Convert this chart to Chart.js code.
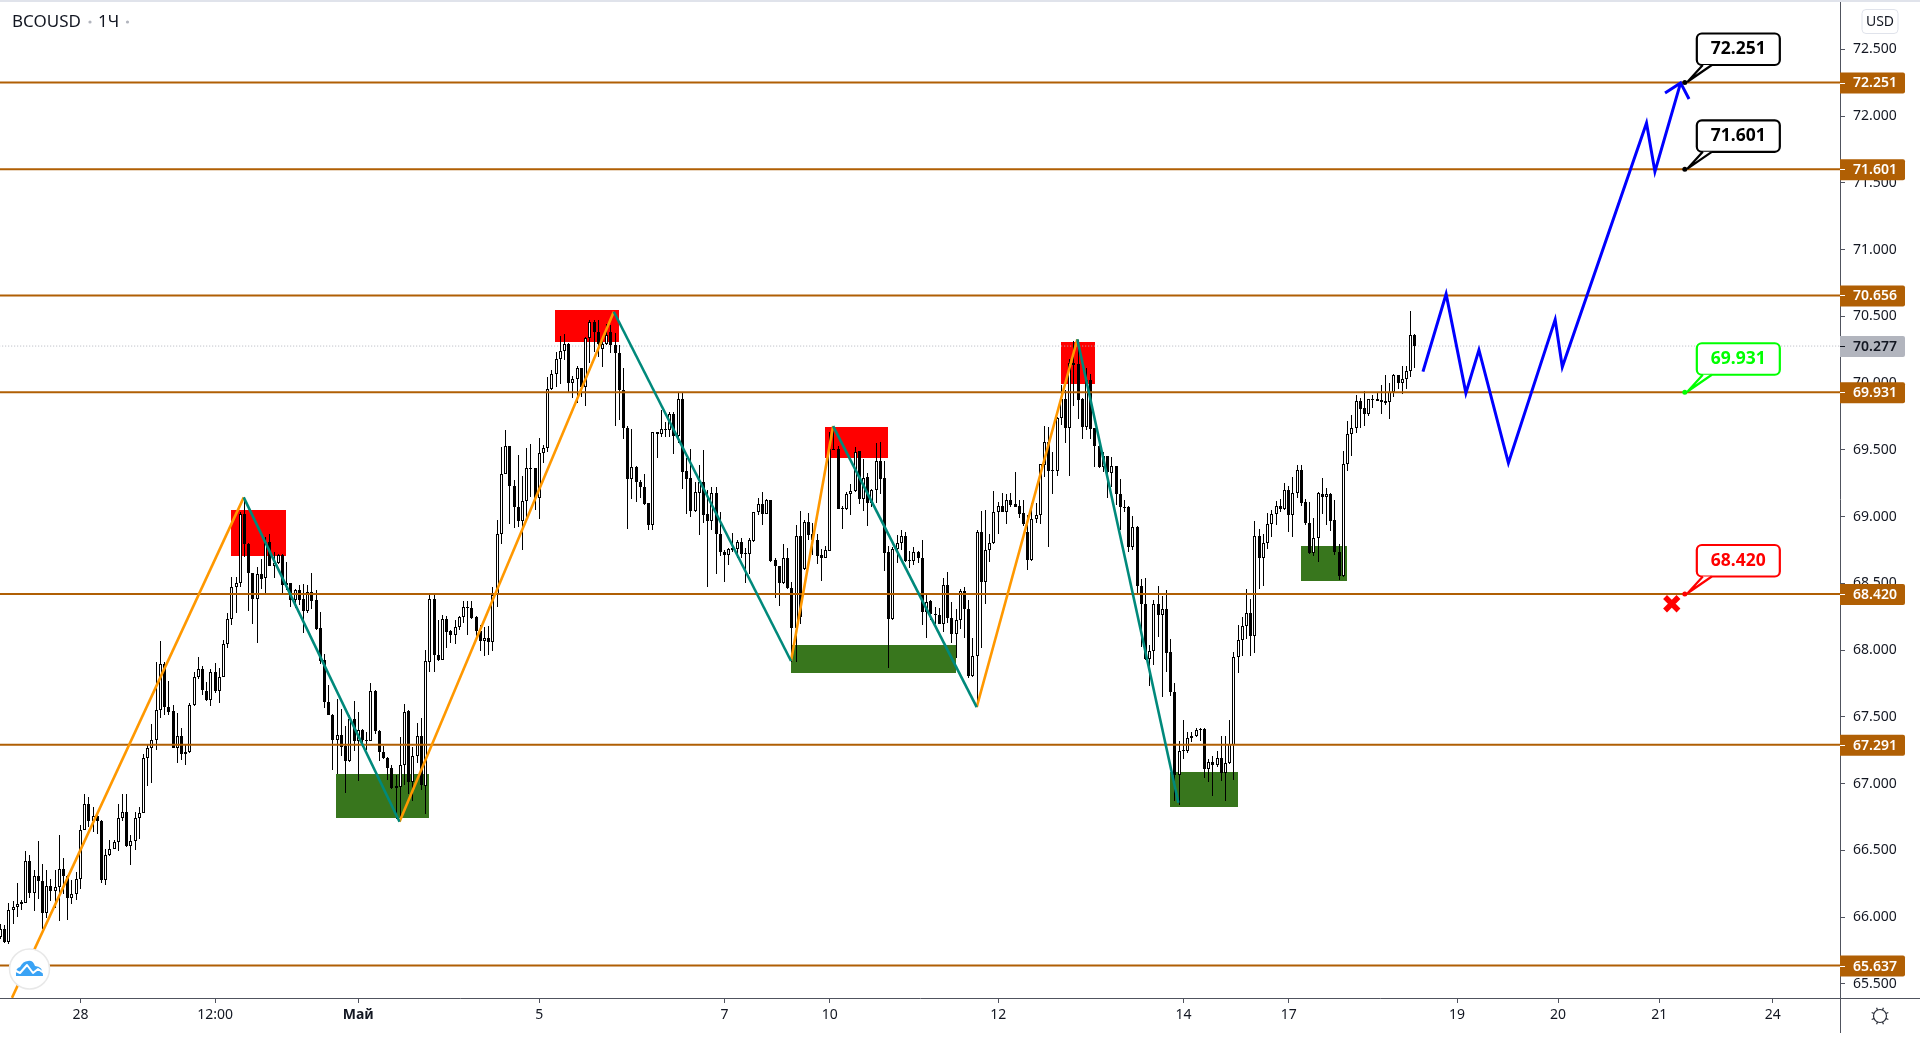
<!DOCTYPE html>
<html><head><meta charset="utf-8">
<style>html,body{margin:0;padding:0;background:#fff;overflow:hidden}canvas{display:block}</style>
<script src="https://cdn.jsdelivr.net/npm/chart.js@4"></script>
</head><body><canvas id="c" width="1920" height="1042"></canvas>
<script>
const symbolName = "BCOUSD", intervalName = "1Ч", currencyName = "USD";
const openPrices = [
65.85,65.913,65.813,66.055,66.078,66.11,66.108,66.423,66.18,66.31,
66.273,66.03,66.235,66.195,66.228,66.363,66.308,66.143,66.175,66.288,
66.655,66.85,66.72,66.76,66.723,66.28,66.468,66.513,66.565,66.745,
66.79,66.53,66.573,66.745,66.783,67.195,67.27,67.323,67.548,67.893,
67.57,67.543,67.268,67.36,67.233,67.233,67.585,67.795,67.855,67.697,
67.629,67.839,67.694,67.802,68.042,68.229,68.474,68.499,69.017,68.797,
68.574,68.384,68.567,68.537,68.812,68.632,68.649,68.714,68.504,68.499,
68.372,68.447,68.379,68.292,68.432,68.372,68.162,67.922,67.614,67.517,
67.327,67.367,67.279,67.169,67.484,67.319,67.404,67.324,67.319,67.697,
67.397,67.239,67.194,67.119,66.979,66.974,67.142,67.544,67.014,67.209,
67.356,66.985,67.91,68.385,67.965,67.927,68.235,68.14,68.112,68.175,
68.245,68.325,68.317,68.245,68.142,68.067,68.092,68.06,68.41,68.872,
69.322,69.525,69.232,69.075,68.967,69.12,69.367,69.36,69.142,69.477,
69.51,69.952,70.065,70.177,70.237,70.29,70.002,70.032,70.11,69.972,
70.335,70.46,70.38,70.257,70.295,70.38,70.285,70.226,69.948,69.66,
69.278,69.368,69.256,69.218,69.098,68.938,69.631,69.621,69.651,69.651,
69.766,69.603,69.878,69.341,69.286,69.043,69.178,69.258,69.016,68.968,
69.173,68.866,68.738,68.713,68.761,68.758,68.806,68.726,68.716,68.816,
69.031,69.091,69.021,69.121,68.671,68.626,68.503,68.693,68.468,68.166,
68.851,68.606,68.958,68.868,68.828,68.711,68.691,68.743,69.501,69.503,
69.066,69.058,69.166,69.188,69.488,69.133,69.293,69.103,69.196,69.413,
69.286,68.731,68.233,68.756,68.803,68.858,68.673,68.668,68.738,68.693,
68.286,68.366,68.268,68.266,68.196,68.491,68.241,68.121,68.228,68.446,
68.311,67.806,67.956,68.881,68.511,68.753,68.803,69.031,69.076,69.036,
69.121,69.091,69.076,69.023,68.885,68.675,68.982,69.015,69.387,69.562,
69.347,69.342,69.74,69.877,69.665,70.152,70.14,69.877,69.672,70.022,
69.66,69.532,69.372,69.452,69.327,69.377,69.172,69.075,69.075,68.77,
68.925,68.482,68.347,67.93,67.995,68.347,68.262,68.31,67.982,67.687,
67.064,67.242,67.247,67.342,67.355,67.402,67.412,67.107,67.162,67.137,
67.192,67.082,67.155,67.292,67.945,68.077,68.18,68.28,68.107,68.857,
68.69,68.805,68.947,69.022,69.082,69.057,69.202,69.012,69.18,69.352,
69.107,68.955,68.727,68.842,69.172,69.147,69.172,68.972,68.737,68.552,
69.39,69.622,69.667,69.862,69.81,69.77,69.875,69.877,69.87,69.862,
69.855,69.935,70.057,70.002,70.032,70.087,70.357];
const highPrices = [
65.95,65.943,66.105,66.118,66.255,66.125,66.493,66.463,66.35,66.568,
66.40,66.35,66.288,66.355,66.618,66.445,66.313,66.275,66.338,66.688,
66.925,66.90,66.825,66.788,66.725,66.513,66.575,66.58,66.85,66.92,
66.92,66.613,66.788,66.825,67.22,67.288,67.445,67.908,68.068,67.913,
67.768,67.588,67.525,67.413,67.288,67.60,67.838,67.945,67.88,67.762,
67.857,67.902,67.867,68.074,68.279,68.544,68.544,69.037,69.144,68.799,
68.579,68.619,68.679,68.849,68.869,68.737,68.719,68.719,68.662,68.504,
68.457,68.487,68.494,68.487,68.574,68.449,68.282,67.974,67.737,67.519,
67.637,67.562,67.429,67.512,67.617,67.534,67.409,67.389,67.754,67.699,
67.399,67.279,67.199,67.137,67.062,67.347,67.599,67.554,67.276,67.454,
67.491,67.997,68.43,68.43,68.227,68.26,68.252,68.147,68.222,68.252,
68.365,68.365,68.365,68.252,68.185,68.172,68.177,68.472,68.972,69.522,
69.647,69.53,69.272,69.46,69.302,69.51,69.542,69.365,69.585,69.535,
70.042,70.097,70.235,70.352,70.367,70.297,70.052,70.127,70.112,70.347,
70.472,70.472,70.472,70.347,70.442,70.435,70.372,70.286,70.113,69.678,
69.653,69.378,69.273,69.318,69.103,69.636,69.636,69.798,69.711,69.786,
69.786,69.928,69.931,69.436,69.503,69.261,69.386,69.498,69.198,69.218,
69.218,69.033,68.753,68.768,68.878,68.823,68.843,68.761,68.843,69.036,
69.141,69.183,69.133,69.126,68.686,68.628,68.793,68.761,68.513,68.936,
69.041,68.973,69.023,68.953,68.873,68.756,68.783,69.636,69.673,69.528,
69.078,69.186,69.243,69.518,69.493,69.428,69.323,69.203,69.548,69.558,
69.413,68.778,68.773,68.861,68.903,68.883,68.743,68.773,68.743,68.823,
68.431,68.373,68.323,68.318,68.538,68.583,68.358,68.311,68.456,68.471,
68.373,68.093,68.903,69.041,69.048,68.866,69.191,69.106,69.173,69.168,
69.173,69.333,69.123,69.123,69.01,69.105,69.105,69.397,69.677,69.672,
69.48,69.747,69.985,69.947,70.177,70.315,70.322,69.885,70.11,70.065,
69.665,69.535,69.485,69.455,69.445,69.38,69.285,69.127,69.077,69.002,
68.93,68.535,68.542,68.04,68.377,68.482,68.402,68.452,68.085,67.755,
67.317,67.479,67.385,67.385,67.417,67.417,67.417,67.185,67.21,67.242,
67.36,67.36,67.477,67.982,68.185,68.247,68.46,68.38,68.965,68.91,
68.867,69.03,69.047,69.115,69.13,69.25,69.23,69.30,69.385,69.385,
69.13,69.112,68.992,69.182,69.292,69.212,69.177,69.122,68.792,69.49,
69.715,69.76,69.91,69.885,69.94,69.882,69.91,69.927,69.985,70.06,
69.997,70.067,70.06,70.127,70.127,70.54,70.367];
const lowPrices = [
65.838,65.805,65.795,65.945,66.0,66.05,66.105,66.143,66.045,66.138,
65.913,65.995,66.12,66.07,65.97,66.175,65.98,66.10,66.125,66.213,
66.65,66.675,66.638,66.625,66.258,66.24,66.458,66.508,66.495,66.72,
66.525,66.39,66.50,66.583,66.78,66.98,67.005,67.255,67.493,67.513,
67.513,67.263,67.155,67.175,67.14,67.23,67.58,67.78,67.663,67.619,
67.579,67.679,67.604,67.799,68.017,68.187,68.279,68.474,68.699,68.294,
68.194,68.054,68.454,68.429,68.629,68.542,68.644,68.424,68.449,68.319,
68.317,68.337,68.129,68.279,68.304,68.154,67.894,67.567,67.512,67.104,
67.069,67.204,66.929,67.162,67.244,67.019,67.274,67.254,67.319,67.369,
67.169,67.187,67.024,66.957,66.737,66.724,66.987,66.924,66.869,67.154,
66.95,66.775,67.835,67.835,67.92,67.922,68.015,68.052,68.047,68.152,
68.202,68.11,68.235,68.085,67.992,67.952,67.965,67.992,68.322,68.797,
69.317,68.942,68.917,68.922,68.747,68.997,69.147,69.047,68.985,69.402,
69.485,69.947,69.967,69.99,70.172,69.922,69.89,69.852,69.892,69.827,
70.152,70.235,70.197,70.122,70.285,70.222,69.682,69.723,69.581,68.908,
69.131,69.111,69.141,69.083,68.901,68.901,69.441,69.598,69.598,69.598,
69.468,69.548,69.206,69.018,68.998,69.031,68.861,68.948,68.473,68.898,
68.568,68.706,68.511,68.636,68.736,68.691,68.686,68.503,68.568,68.806,
69.011,68.938,69.016,68.661,68.391,68.331,68.498,68.461,67.911,67.911,
68.198,68.598,68.823,68.711,68.643,68.516,68.686,68.741,69.498,69.053,
68.906,69.048,69.011,69.186,69.093,69.043,68.928,69.073,69.103,69.166,
68.591,67.866,68.228,68.653,68.748,68.663,68.616,68.636,68.653,68.186,
68.091,68.223,68.198,68.193,68.136,68.203,68.053,67.941,68.156,68.091,
67.793,67.798,67.571,68.016,68.343,68.658,68.793,68.868,69.031,68.943,
69.068,69.068,68.986,68.928,68.597,68.667,68.952,68.947,69.297,68.772,
69.167,69.305,69.685,69.552,69.305,69.827,69.73,69.58,69.647,69.58,
69.372,69.367,69.335,69.14,69.222,69.085,68.897,69.035,68.735,68.747,
68.422,68.022,67.922,67.73,67.89,68.097,67.647,67.835,67.655,66.867,
66.842,67.185,67.227,67.31,67.347,67.317,67.04,67.01,66.905,67.122,
67.022,66.872,67.147,67.03,67.825,67.952,68.08,67.952,67.975,68.46,
68.48,68.76,68.847,68.935,69.035,69.052,68.882,68.847,69.137,69.077,
68.935,68.722,68.702,68.66,69.017,68.935,68.89,68.71,68.522,68.547,
69.34,69.452,69.627,69.665,69.677,69.752,69.815,69.865,69.767,69.835,
69.732,69.897,69.957,69.917,69.955,70.047,70.115];
const closePrices = [
65.913,65.813,66.055,66.078,66.10,66.10,66.423,66.18,66.31,66.273,
66.03,66.235,66.195,66.228,66.363,66.308,66.143,66.175,66.288,66.655,
66.85,66.72,66.76,66.72,66.275,66.468,66.513,66.565,66.745,66.79,
66.53,66.573,66.745,66.783,67.195,67.27,67.323,67.548,67.893,67.57,
67.538,67.268,67.36,67.225,67.225,67.585,67.795,67.855,67.698,67.624,
67.839,67.694,67.802,68.042,68.229,68.474,68.499,69.017,68.797,68.574,
68.384,68.567,68.534,68.812,68.632,68.649,68.714,68.489,68.489,68.372,
68.447,68.377,68.292,68.432,68.369,68.159,67.919,67.614,67.517,67.327,
67.367,67.277,67.169,67.484,67.319,67.404,67.324,67.319,67.697,67.394,
67.237,67.194,67.117,66.967,66.969,67.142,67.539,67.012,67.209,67.356,
66.989,67.915,68.385,67.965,67.922,68.235,68.135,68.112,68.175,68.245,
68.325,68.315,68.24,68.142,68.067,68.092,68.06,68.41,68.872,69.322,
69.525,69.232,69.072,68.967,69.12,69.367,69.357,69.142,69.477,69.51,
69.952,70.065,70.177,70.237,70.29,70.002,70.032,70.11,69.967,70.335,
70.46,70.38,70.295,70.295,70.36,70.285,70.222,69.948,69.66,69.278,
69.368,69.256,69.218,69.096,68.938,69.631,69.621,69.653,69.656,69.766,
69.601,69.878,69.336,69.283,69.043,69.181,69.258,69.013,68.968,69.173,
68.866,68.736,68.713,68.756,68.751,68.806,68.718,68.716,68.821,69.031,
69.091,69.021,69.121,68.666,68.626,68.503,68.693,68.466,68.166,68.851,
68.248,68.958,68.861,68.828,68.706,68.691,68.746,69.503,69.506,69.058,
69.058,69.166,69.188,69.486,69.133,69.291,69.103,69.196,69.413,69.283,
68.728,68.233,68.756,68.803,68.858,68.668,68.668,68.738,68.691,68.286,
68.363,68.273,68.263,68.196,68.491,68.241,68.121,68.228,68.446,68.306,
67.806,67.956,68.881,68.511,68.753,68.803,69.031,69.076,69.036,69.121,
69.086,69.073,69.018,68.943,68.675,68.985,69.015,69.39,69.562,69.342,
69.34,69.74,69.877,69.665,70.152,70.137,69.875,69.672,70.022,69.657,
69.53,69.372,69.452,69.335,69.377,69.17,69.072,69.07,68.77,68.925,
68.48,68.342,67.93,67.995,68.347,68.262,68.31,67.977,67.685,67.064,
67.247,67.254,67.342,67.357,67.402,67.41,67.107,67.162,67.137,67.19,
67.082,67.155,67.297,67.945,68.077,68.182,68.28,68.105,68.857,68.69,
68.805,68.947,69.022,69.082,69.057,69.202,69.012,69.18,69.352,69.102,
68.952,68.727,68.842,69.175,69.147,69.172,68.967,68.735,68.552,69.39,
69.622,69.667,69.862,69.807,69.77,69.877,69.88,69.867,69.86,69.852,
69.935,70.057,70.002,70.032,70.087,70.357,70.277];

const priceLevels = [72.251,71.601,70.656,69.931,68.420,67.291,65.637];
const lastPrice = 70.277;
const yTickValues = [65.5,66,66.5,67,67.5,68,68.5,69,69.5,70,70.5,71,71.5,72,72.5];
const xTickBars = [19,51,85,128,172,197,237,281,306,346,370,394,421];
const xTickLabels = ["28","12:00","Май","5","7","10","12","14","17","19","20","21","24"];

const zigzagBars = [2.75,57.8,94.8,145.7,187.8,197.8,231.9,255.8,279.8];
const zigzagPrices = [65.395,69.144,66.714,70.534,67.918,69.678,67.573,70.328,66.857];
const forecastBars = [337.9,343.4,348.1,351.2,358.2,369.3,371.0,391.0,393.0,399.1];
const forecastPrices = [70.085,70.667,69.925,70.248,69.401,70.475,70.120,71.948,71.583,72.248];
const arrowBars = [395.4,399.1,401.1];
const arrowPrices = [72.173,72.248,72.128];

const zoneBarFrom = [54.8,131.7,195.9,251.9,79.7,187.8,277.8,308.9];
const zoneBarTo = [67.8,146.9,210.8,260,101.8,226.9,294,319.9];
const zoneTop = [69.049,70.547,69.671,70.308,67.071,68.038,67.086,68.780];
const zoneBottom = [68.707,70.308,69.438,69.993,66.742,67.830,66.827,68.520];
const zoneKinds = ["supply","supply","supply","supply","demand","demand","demand","demand"];

const calloutPrices = [72.251,71.601,69.931,68.420];
const calloutTexts = ["72.251","71.601","69.931","68.420"];
const calloutColors = ["#000000","#000000","#00ff00","#ff0000"];
const calloutBar = 400.1;
const stopBar = [397];
const stopPrice = [68.347];

const FONT = '"Noto Sans"';
const bars = openPrices.map((_, i) => i);
const isUp = bars.map(i => closePrices[i] >= openPrices[i]);
const LEVEL = "#b05f04";

function line(xs, ys, color, width, order, extra) {
  return Object.assign({type:"line", data:xs.map((x,i)=>({x, y:ys[i]})), borderColor:color, borderWidth:width,
    pointRadius:0, fill:false, tension:0, order, parsing:{xAxisKey:"x",yAxisKey:"y"}}, extra||{});
}
const datasets = [];
datasets.push(line([-1,438],[lastPrice,lastPrice],"#b2b5be",1,12,{borderDash:[1,2]}));
datasets.push({type:"bar", candle:true, data:bars.map(i=>({x:i,y:[lowPrices[i],highPrices[i]]})), barThickness:1,
  backgroundColor:"#000", borderWidth:0, inflateAmount:0, grouped:false, order:11});
datasets.push({type:"bar", candle:true, data:bars.map(i=>({x:i,y:[openPrices[i],closePrices[i]]})), barThickness:3,
  backgroundColor:bars.map(i=>isUp[i]?"#fff":"#000"), borderColor:"#000", borderWidth:1, borderSkipped:false,
  inflateAmount:0, grouped:false, order:10});
priceLevels.forEach(p=>datasets.push(line([-1,438],[p,p],LEVEL,2,5)));
for(let k=0;k<zigzagBars.length-1;k++){
  datasets.push(line(zigzagBars.slice(k,k+2),zigzagPrices.slice(k,k+2),k%2===0?"#ff9800":"#00897b",2.6,k%2===0?3:2));
}
datasets.push(line(forecastBars,forecastPrices,"#0000ff",3,1));
datasets.push(line(arrowBars,arrowPrices,"#0000ff",3,1));
datasets.push({type:"scatter", data:[{x:stopBar[0],y:stopPrice[0]}], pointStyle:"crossRot", pointRadius:9.5,
  borderColor:"#ff0000", borderWidth:5.5, backgroundColor:"#ff0000", order:0, showLine:false});

const crisp = {id:"crisp", afterDatasetsUpdate(chart){
  chart.data.datasets.forEach((ds,di)=>{
    if(!ds.candle) return;
    chart.getDatasetMeta(di).data.forEach(el=>{
      el.x=Math.floor(el.x)+0.5; el.y=Math.round(el.y); el.base=Math.round(el.base);
      if(el.y===el.base) el.base+=1;
    });
  });
}};

const zones = {id:"zones", beforeDatasetsDraw(chart){
  const {ctx,scales:{x,y}}=chart; ctx.save();
  zoneKinds.forEach((k,i)=>{
    ctx.fillStyle=k==="supply"?"#ff0000":"#38761d";
    const x0=Math.round(x.getPixelForValue(zoneBarFrom[i])), x1=Math.round(x.getPixelForValue(zoneBarTo[i]));
    const y0=Math.round(y.getPixelForValue(zoneTop[i])), y1=Math.round(y.getPixelForValue(zoneBottom[i]));
    ctx.fillRect(x0,y0,x1-x0,y1-y0);
  });
  ctx.restore();
}};

function rr(ctx,x,y,w,h,r){ctx.beginPath();ctx.roundRect(x,y,w,h,r);}
const overlay = {id:"overlay", afterDraw(chart){
  const {ctx,scales:{x,y},chartArea:ca}=chart; ctx.save();
  ctx.fillStyle="#e0e3eb"; ctx.fillRect(0,0,1920,2);
  ctx.strokeStyle="#50535e"; ctx.lineWidth=1;
  ctx.beginPath(); ctx.moveTo(ca.right+.5,ca.bottom); ctx.lineTo(ca.right+.5,1033);
  ctx.moveTo(ca.right,ca.bottom+.5); ctx.lineTo(1920,ca.bottom+.5); ctx.stroke();

  ctx.textBaseline="middle"; ctx.textAlign="left";
  const box=(p,bg,fg,txt)=>{
    const py=y.getPixelForValue(p);
    ctx.fillStyle=bg; rr(ctx,ca.right,py-10,65,21,[0,2,2,0]); ctx.fill();
    ctx.strokeStyle=fg; ctx.beginPath(); ctx.moveTo(ca.right,Math.round(py)+.5); ctx.lineTo(ca.right+5,Math.round(py)+.5); ctx.stroke();
    ctx.fillStyle=fg; ctx.font="600 14px "+FONT; ctx.fillText(txt,ca.right+13,py+1);
  };
  box(lastPrice,"#b2b5be","#131722",lastPrice.toFixed(3));
  priceLevels.forEach(p=>box(p,LEVEL,"#ffffff",p.toFixed(3)));

  // callouts
  const cx=x.getPixelForValue(calloutBar);
  calloutPrices.forEach((p,i)=>{
    const py=y.getPixelForValue(p), c=calloutColors[i];
    ctx.strokeStyle=c; ctx.lineWidth=2.2; ctx.fillStyle="#fff"; ctx.lineJoin="round";
    const top=py-49, bot=py-17.5, L=cx+12, R=cx+95;
    rr(ctx,L,top,R-L,bot-top,5); ctx.fill(); ctx.stroke();
    ctx.beginPath(); ctx.moveTo(cx+18,bot); ctx.lineTo(cx+3,py-1); ctx.lineTo(cx+27,bot); ctx.closePath(); ctx.fill();
    ctx.beginPath(); ctx.moveTo(cx+18,bot); ctx.lineTo(cx+3,py-1); ctx.lineTo(cx+27,bot); ctx.stroke();
    ctx.fillStyle=c; ctx.beginPath(); ctx.arc(cx,py,2.5,0,Math.PI*2); ctx.fill();
    ctx.font="bold 17.5px "+FONT; ctx.textAlign="center"; ctx.fillText(calloutTexts[i],(L+R)/2,(top+bot)/2);
  });

  // legend text
  ctx.textAlign="left"; ctx.fillStyle="#131722"; ctx.font="17px "+FONT;
  ctx.fillText(symbolName,12,22);
  ctx.fillText(intervalName,98,22);
  ctx.fillStyle="#b2b5be";
  [90,127.5].forEach(px=>{ctx.beginPath();ctx.arc(px,22,1.6,0,Math.PI*2);ctx.fill();});

  // currency button
  ctx.strokeStyle="#e0e3eb"; ctx.lineWidth=1; rr(ctx,1862,9.5,36,24,4); ctx.stroke();
  ctx.fillStyle="#131722"; ctx.font="14px "+FONT; ctx.textAlign="center"; ctx.fillText(currencyName,1880,22);

  // settings icon
  ctx.strokeStyle="#2a2e39"; ctx.lineWidth=1.2;
  ctx.beginPath(); ctx.arc(1880,1016,6.5,0,Math.PI*2); ctx.stroke();
  for(let a=0;a<8;a++){const t=a*Math.PI/4+Math.PI/8;ctx.beginPath();ctx.moveTo(1880+6.5*Math.cos(t),1016+6.5*Math.sin(t));ctx.lineTo(1880+9*Math.cos(t),1016+9*Math.sin(t));ctx.stroke();}

  // logo
  ctx.fillStyle="#fff"; ctx.strokeStyle="#e8e8e8"; ctx.lineWidth=1.5;
  ctx.beginPath(); ctx.arc(29.5,969,20,0,Math.PI*2); ctx.fill(); ctx.stroke();
  ctx.fillStyle="#3aa3f5"; ctx.beginPath();
  ctx.moveTo(16,976); ctx.quadraticCurveTo(15,968,20,967); ctx.quadraticCurveTo(23,961,28,961);
  ctx.quadraticCurveTo(33,960,35,966); ctx.quadraticCurveTo(43,966,43,976); ctx.closePath(); ctx.fill();
  ctx.strokeStyle="#fff"; ctx.lineWidth=2; ctx.beginPath();
  ctx.moveTo(14,970); ctx.lineTo(20,973); ctx.lineTo(27,965); ctx.lineTo(33,973); ctx.lineTo(38,969); ctx.lineTo(44,973); ctx.stroke();
  ctx.restore();
}};

const TICK = "#131722", AXIS = "#50535e";
function noPad(s){s.paddingTop=0;s.paddingBottom=0;s.paddingLeft=0;s.paddingRight=0;}
new Chart(document.getElementById("c"),{
  type:"bar",
  data:{datasets},
  plugins:[crisp,zones,overlay],
  options:{
    responsive:false, animation:false, events:[], maintainAspectRatio:false,
    layout:{padding:0,autoPadding:false},
    plugins:{legend:{display:false},title:{display:false},tooltip:{enabled:false}},
    scales:{
      x:{type:"linear",min:-0.095,max:436.96,offset:false,
        grid:{display:true,offset:false,drawOnChartArea:false,drawTicks:true,tickLength:5,tickColor:AXIS,color:AXIS},
        border:{display:true,color:AXIS,width:1},
        afterBuildTicks(s){s.ticks=xTickBars.map(v=>({value:v}));},
        afterFit(s){s.height=44;noPad(s);},
        ticks:{autoSkip:false,maxRotation:0,minRotation:0,color:TICK,padding:4,
          font:c=>({family:FONT,size:14,weight:c.tick&&c.tick.label==="Май"?"bold":"normal"}),
          callback:v=>{const i=xTickBars.indexOf(v);return i<0?"":xTickLabels[i];}}},
      y:{type:"linear",position:"right",min:65.394,max:72.869,
        grid:{display:true,drawOnChartArea:false,drawTicks:true,tickLength:5,tickColor:AXIS,color:AXIS},
        border:{display:true,color:AXIS,width:1},
        afterBuildTicks(s){s.ticks=yTickValues.map(v=>({value:v}));},
        afterFit(s){s.width=80;noPad(s);},
        ticks:{autoSkip:false,color:TICK,padding:8,crossAlign:"near",font:{family:FONT,size:14},
          callback:v=>v.toFixed(3)}}
    }
  }
});
</script></body></html>
